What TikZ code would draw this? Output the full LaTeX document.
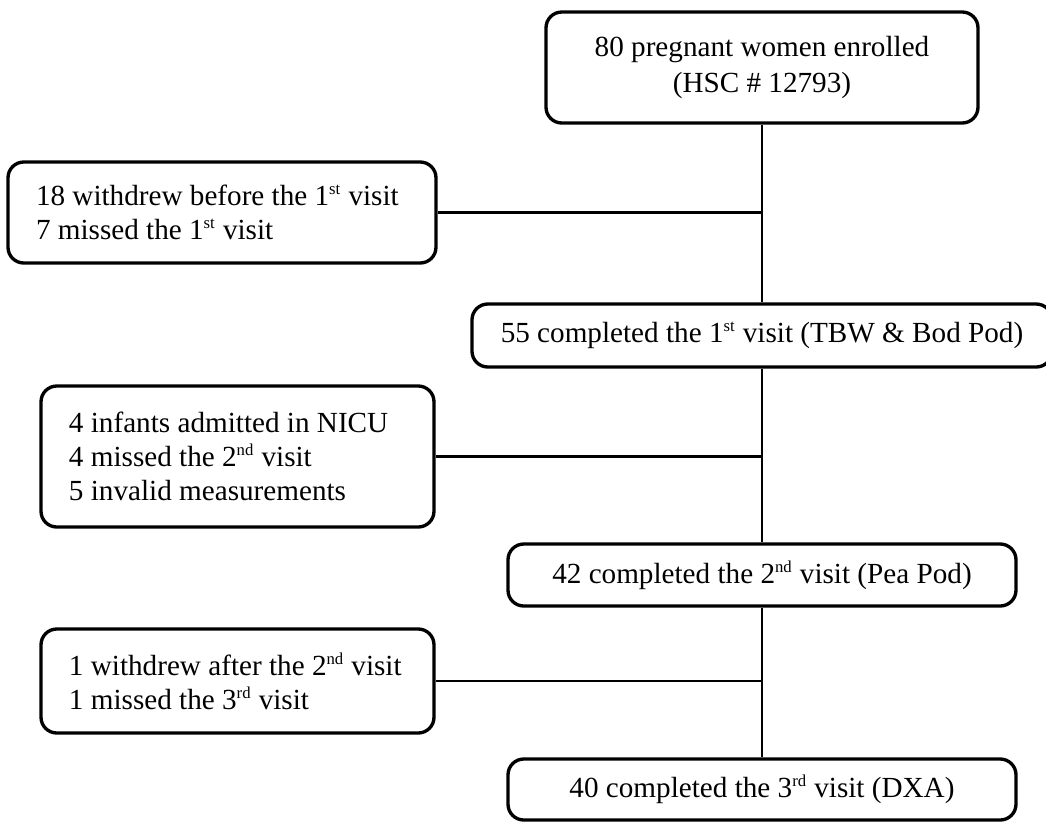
\documentclass[tikz,border=0pt]{standalone}
\usepackage{fontspec}
\setmainfont{Liberation Serif}
\usetikzlibrary{positioning}
\newcommand\ordsup[1]{\textsuperscript{\fontsize{9.5}{9.5}\selectfont #1}}

\begin{document}
\begin{tikzpicture}[
  box/.style={draw,line width=1.9pt,rounded corners=9pt,align=center,inner sep=0pt,font=\fontsize{16.6}{20.5}\selectfont},
  side/.style={box,align=flush left,font=\fontsize{16.6}{19.4}\selectfont},
  lnk/.style={line width=1.6pt}]
  \useasboundingbox (0,0) rectangle (20.92,-16.44);
  \node[box,minimum width=8.64cm,minimum height=2.22cm] (enr) at (15.24,-1.35) {80 pregnant women enrolled\\(HSC \# 12793)};
  \node[box,minimum width=11.6cm,minimum height=1.26cm] (v1) at (15.24,-6.71) {55 completed the 1\ordsup{st} visit (TBW \& Bod Pod)};
  \node[box,minimum width=10.16cm,minimum height=1.24cm] (v2) at (15.24,-11.5) {42 completed the 2\ordsup{nd} visit (Pea Pod)};
  \node[box,minimum width=10.16cm,minimum height=1.22cm] (v3) at (15.24,-15.79) {40 completed the 3\ordsup{rd} visit (DXA)};
  \node[side,minimum width=8.56cm,minimum height=2.02cm,text width=7.44cm] (out1) at (4.44,-4.25) {18 withdrew before the 1\ordsup{st} visit\\7 missed the 1\ordsup{st} visit};
  \node[side,minimum width=7.86cm,minimum height=2.82cm,text width=6.74cm] (out2) at (4.75,-9.13) {4 infants admitted in NICU\\4 missed the 2\ordsup{nd} visit\\5 invalid measurements};
  \node[side,minimum width=7.86cm,minimum height=2.08cm,text width=6.74cm] (out3) at (4.75,-13.62) {1 withdrew after the 2\ordsup{nd} visit\\1 missed the 3\ordsup{rd} visit};
  \draw[lnk] (enr) -- (v1);
  \draw[lnk] (v1) -- (v2);
  \draw[lnk] (v2) -- (v3);
  \draw[lnk] (out1) -- (out1 -| enr);
  \draw[lnk] (out2) -- (out2 -| enr);
  \draw[lnk] (out3) -- (out3 -| enr);
\end{tikzpicture}
\end{document}
